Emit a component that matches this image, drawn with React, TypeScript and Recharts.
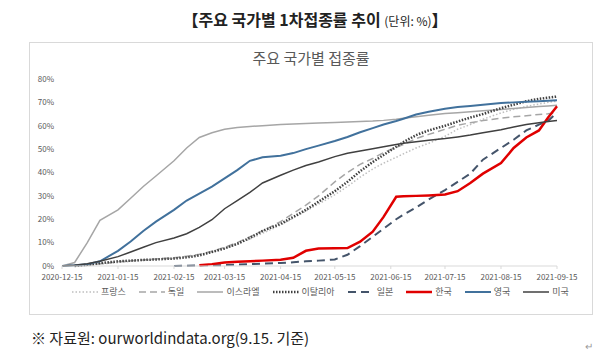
import { LineChart, Line, XAxis, YAxis } from 'recharts';

// day offset from 2020-12-15
const days = [0, 7, 14, 21, 31, 38, 45, 52, 62, 69, 76, 83, 90, 97, 104, 111, 121, 128, 135, 142, 151, 158, 165, 172, 178, 185, 189, 196, 203, 212, 219, 226, 233, 243, 250, 257, 264, 269, 274];

const tickDays = [0, 31, 62, 90, 121, 151, 182, 212, 243, 274];
const tickLabels = ['2020-12-15', '2021-01-15', '2021-02-15', '2021-03-15', '2021-04-15', '2021-05-15', '2021-06-15', '2021-07-15', '2021-08-15', '2021-09-15'];
const yTicks = [0, 10, 20, 30, 40, 50, 60, 70, 80];

const france = [null, 0, 0.2, 0.8, 1.5, 2, 2.5, 2.8, 3.3, 4, 4.8, 6, 7.5, 9.3, 11.5, 14, 17.5, 20.5, 23.5, 26.5, 30.5, 34, 38, 41.5, 44, 46.5, 48, 50.5, 52.5, 55.5, 58.5, 60.5, 62.8, 65.5, 67, 68.3, 69.3, 70, 70.5];
const germany = [null, 0, 0.4, 1, 1.8, 2.2, 2.6, 3, 3.5, 4.2, 5, 6.3, 8, 10, 12.5, 15, 19, 22.5, 26, 30, 36, 40, 43.5, 46, 48.5, 50.8, 52, 54.5, 56.3, 58.5, 60.2, 61.3, 62.2, 63.2, 63.8, 64.3, 64.8, 65.1, 65.5];
const israel = [0, 1.5, 10, 19.5, 24, 29, 34, 38.5, 45, 50.5, 55, 57, 58.5, 59.2, 59.7, 60, 60.5, 60.8, 61, 61.2, 61.4, 61.6, 61.8, 62, 62.3, 62.8, 63.2, 63.8, 64.5, 65.2, 65.6, 66, 66.4, 67, 67.4, 67.8, 68.2, 68.5, 68.8];
const italy = [null, 0, 0.5, 1.2, 2, 2.3, 2.6, 2.8, 3.2, 3.7, 4.5, 6, 7.5, 9.5, 12, 15, 18, 21, 24, 27.5, 32, 36, 40.5, 44.5, 47.5, 51, 53, 56, 58, 60, 61.8, 63.5, 65, 67.5, 69, 70.5, 71.5, 72, 72.5];
const japan = [null, null, null, null, null, null, null, null, 0, 0.1, 0.2, 0.3, 0.4, 0.6, 0.8, 1, 1.3, 1.6, 2, 2.3, 2.8, 4.8, 8.5, 12.5, 16, 20, 22, 25, 28.5, 32.5, 36, 39.5, 45.5, 50.5, 54, 58, 60.5, 62, 65.7];
const korea = [null, null, null, null, null, null, null, null, null, null, 0.3, 0.8, 1.5, 1.8, 2, 2.3, 2.7, 3.5, 6.5, 7.5, 7.6, 7.7, 10.4, 14.7, 21, 29.6, 29.8, 30, 30.2, 30.6, 32, 35.5, 39.5, 44, 50.5, 55, 58, 63.4, 68.3];
const uk = [0, 0.3, 0.8, 2, 6.5, 10.5, 15, 19, 24, 28, 31, 34, 37.5, 41, 45, 46.5, 47.2, 48.3, 50, 51.5, 53.5, 55.2, 57.2, 59, 60.5, 62, 63, 64.8, 66, 67.3, 68, 68.5, 69, 69.7, 70, 70.3, 70.5, 70.7, 70.9];
const us = [0, 0.3, 1, 2, 4, 6, 8, 10, 12, 13.8, 16.5, 19.8, 24.5, 28, 31.5, 35.5, 38.8, 41, 43, 44.5, 46.8, 48.2, 49.2, 50.2, 51, 52, 52.5, 53.2, 53.8, 54.5, 55.2, 56, 57, 58.3, 59.5, 60.5, 61.3, 61.8, 62.2];

const data = days.map((d, i) => ({
  d,
  france: france[i],
  germany: germany[i],
  israel: israel[i],
  italy: italy[i],
  japan: japan[i],
  korea: korea[i],
  uk: uk[i],
  us: us[i],
}));

const series = [
  { key: 'france', name: '프랑스', color: '#BFBFBF', width: 1.5, dash: '1.5 2' },
  { key: 'germany', name: '독일', color: '#A6A6A6', width: 1.5, dash: '7 4' },
  { key: 'israel', name: '이스라엘', color: '#A6A6A6', width: 1.5, dash: undefined },
  { key: 'italy', name: '이탈리아', color: '#404040', width: 2.5, dash: '1.5 1.5' },
  { key: 'japan', name: '일본', color: '#44546A', width: 2, dash: '8 5' },
  { key: 'korea', name: '한국', color: '#E00000', width: 2.5, dash: undefined },
  { key: 'uk', name: '영국', color: '#41719C', width: 2, dash: undefined },
  { key: 'us', name: '미국', color: '#404040', width: 1.5, dash: undefined },
];

const font = '"Noto Sans CJK KR", "Noto Sans", sans-serif';

const App = () => {
  return (
    <div style={{ position: 'absolute', left: 0, top: 0, width: 600, height: 357, background: '#fff', fontFamily: font, overflow: 'hidden' }}>
      <div style={{ position: 'absolute', left: 0, top: 7, width: 630, textAlign: 'center', fontSize: 16, fontWeight: 700, color: '#222' }}>
        【주요 국가별 1차접종률 추이 <span style={{ fontSize: 12, fontWeight: 400 }}>(단위: %)</span>】
      </div>
      <div style={{ position: 'absolute', left: 29, top: 42, width: 562, height: 271, border: '1px solid #d9d9d9' }} />
      <div style={{ position: 'absolute', left: 0, top: 47, width: 622, textAlign: 'center', fontSize: 15, color: '#595959' }}>
        주요 국가별 접종률
      </div>
      <div style={{ position: 'absolute', left: 0, top: 0 }}>
        <LineChart width={600} height={310} data={data} margin={{ top: 79, right: 43, bottom: 14, left: 22 }}>
          <XAxis
            dataKey="d"
            type="number"
            domain={[0, 274]}
            ticks={tickDays}
            tickFormatter={(v: number) => tickLabels[tickDays.indexOf(v)]}
            interval={0}
            stroke="#d9d9d9"
            tickSize={3}
            tickMargin={5}
            tick={{ fontSize: 8, fill: '#595959', fontFamily: font }}
            height={30}
          />
          <YAxis
            domain={[0, 80]}
            ticks={yTicks}
            tickFormatter={(v: number) => `${v}%`}
            axisLine={false}
            tickLine={false}
            width={40}
            tick={{ fontSize: 8, fill: '#595959', fontFamily: font }}
          />
          {series.map((s) => (
            <Line
              key={s.key}
              type="linear"
              dataKey={s.key}
              name={s.name}
              stroke={s.color}
              strokeWidth={s.width}
              strokeDasharray={s.dash}
              dot={false}
              activeDot={false}
              isAnimationActive={false}
            />
          ))}
        </LineChart>
      </div>
      <div style={{ position: 'absolute', left: 72, top: 285, display: 'flex', alignItems: 'center', fontSize: 9, color: '#595959' }}>
        {series.map((s) => (
          <div key={s.key} style={{ display: 'flex', alignItems: 'center', marginRight: 13 }}>
            <svg width={26} height={10} style={{ marginRight: 3 }}>
              <line x1={0} y1={5} x2={26} y2={5} stroke={s.color} strokeWidth={s.width} strokeDasharray={s.dash} />
            </svg>
            <span>{s.name}</span>
          </div>
        ))}
      </div>
      <div style={{ position: 'absolute', left: 31, top: 327, fontSize: 15, color: '#222' }}>
        ※ 자료원: ourworldindata.org(9.15. 기준)
      </div>
      <div style={{ position: 'absolute', left: 585, top: 338, fontSize: 10, color: '#999' }}>↵</div>
    </div>
  );
};

export default App;
